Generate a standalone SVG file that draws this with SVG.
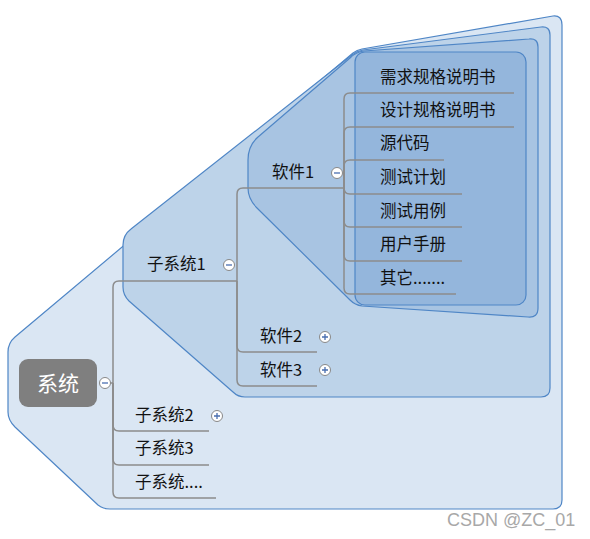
<svg xmlns="http://www.w3.org/2000/svg" width="590" height="539" viewBox="0 0 590 539">
<style>
.b{stroke:#4f86c6;stroke-width:1.2;stroke-linejoin:round}
.c{fill:none;stroke:#8c8c8c;stroke-width:1.5}
.t{font-family:"Noto Sans CJK SC","Noto Sans",sans-serif;font-size:16.5px;fill:#111}
.tg{fill:#fff;stroke:#888;stroke-width:1}
.sg{stroke:#4a6fb0;stroke-width:1.3}
</style>
<rect width="590" height="539" fill="#fff"/>
<g id="boundaries">
<path class="b" fill="#dae6f3" d="M 8 352 Q 8 343 15 337 L 353 53 Q 357 50 362 49 L 553 16 Q 562 15 562 25 L 562 500 Q 562 509 553 509 L 110 509 Q 103 509 98 505 L 15 427 Q 8 420 8 412 Z"/>
<path class="b" fill="#bdd3e9" d="M 123 245 Q 123 235 131 229 L 352 55 Q 357 51 363 50 L 541 27 Q 550 26 550 35 L 550 388 Q 550 397 541 397 L 245 397 Q 238 397 233 392 L 129 301 Q 123 295 123 287 Z"/>
<path class="b" fill="#a8c4e2" d="M 248 160 Q 248 146 258 137 L 350 58 Q 356 52 364 51 L 529 39 Q 538 38 538 47 L 538 308 Q 538 318 528 317 L 362 306 Q 355 305 350 300 L 257 208 Q 248 199 248 188 Z"/>
<rect class="b" fill="#94b6dc" x="355" y="52" width="171" height="253" rx="10"/>
</g>
<g id="connectors">
<path class="c" d="M 110 383 L 113 383"/>
<path class="c" d="M 113 383 L 113 287 Q 113 281 119 281 L 237 281"/>
<path class="c" d="M 113 383 L 113 425 Q 113 431 119 431 L 209 431"/>
<path class="c" d="M 113 383 L 113 459 Q 113 465 119 465 L 209 465"/>
<path class="c" d="M 113 383 L 113 492 Q 113 498 119 498 L 216 498"/>
<path class="c" d="M 237 281 L 237 194 Q 237 188 243 188 L 344 188"/>
<path class="c" d="M 237 281 L 237 346 Q 237 352 243 352 L 317 352"/>
<path class="c" d="M 237 281 L 237 380 Q 237 386 243 386 L 317 386"/>
<path class="c" d="M 344 188 L 344 99 Q 344 93 350 93 L 514 93"/>
<path class="c" d="M 344 188 L 344 133 Q 344 127 350 127 L 514 127"/>
<path class="c" d="M 344 188 L 344 166 Q 344 160 350 160 L 444 160"/>
<path class="c" d="M 344 188 Q 344 194 350 194 L 462 194"/>
<path class="c" d="M 344 188 L 344 221 Q 344 227 350 227 L 462 227"/>
<path class="c" d="M 344 188 L 344 255 Q 344 261 350 261 L 462 261"/>
<path class="c" d="M 344 188 L 344 288 Q 344 294 350 294 L 456 294"/>
</g>
<g id="root">
<rect x="19" y="359" width="78" height="48" rx="9" fill="#7f7f7f"/>
<text x="58" y="391" text-anchor="middle" font-family="Noto Sans CJK SC,sans-serif" font-size="21" fill="#fff">系统</text>
<circle class="tg" cx="105" cy="383" r="5.5"/><path class="sg" d="M 102 383 H 108"/>
</g>
<g id="sub1"><text class="t" x="147" y="270">子系统1</text>
<circle class="tg" cx="229" cy="265" r="5.5"/><path class="sg" d="M 226 265 H 232"/></g>
<g id="sub2"><text class="t" x="135" y="421">子系统2</text>
<circle class="tg" cx="217" cy="416" r="5.5"/><path class="sg" d="M 214 416 H 220 M 217 413 V 419"/></g>
<g id="sub3"><text class="t" x="135" y="454">子系统3</text></g>
<g id="sub4"><text class="t" x="135" y="488">子系统....</text></g>
<g id="sw1"><text class="t" x="272" y="178">软件1</text>
<circle class="tg" cx="337" cy="173" r="5.5"/><path class="sg" d="M 334 173 H 340"/></g>
<g id="sw2"><text class="t" x="260" y="342">软件2</text>
<circle class="tg" cx="325" cy="337" r="5.5"/><path class="sg" d="M 322 337 H 328 M 325 334 V 340"/></g>
<g id="sw3"><text class="t" x="260" y="376">软件3</text>
<circle class="tg" cx="325" cy="370" r="5.5"/><path class="sg" d="M 322 370 H 328 M 325 367 V 373"/></g>
<g id="d1"><text class="t" x="380" y="83">需求规格说明书</text></g>
<g id="d2"><text class="t" x="380" y="116">设计规格说明书</text></g>
<g id="d3"><text class="t" x="380" y="149">源代码</text></g>
<g id="d4"><text class="t" x="380" y="183">测试计划</text></g>
<g id="d5"><text class="t" x="380" y="217">测试用例</text></g>
<g id="d6"><text class="t" x="380" y="250">用户手册</text></g>
<g id="d7"><text class="t" x="380" y="284">其它.......</text></g>
<text x="447" y="526" font-family="Liberation Sans,Arial,sans-serif" font-size="18" fill="#a8a8a8">CSDN @ZC_01</text>
</svg>
